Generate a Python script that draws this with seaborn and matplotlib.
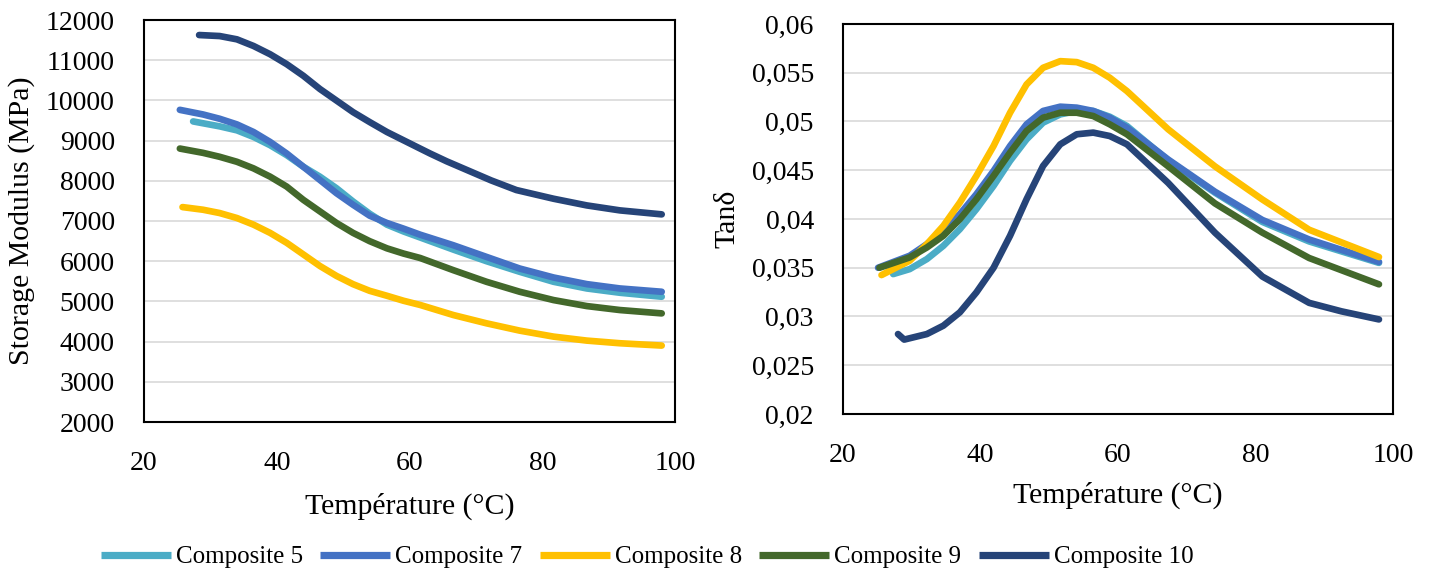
import numpy as np
import pandas as pd
import matplotlib
matplotlib.use("Agg")
import matplotlib.pyplot as plt
import seaborn as sns

# ---------------- data ----------------
series_names = ["Composite 5", "Composite 7", "Composite 8", "Composite 9", "Composite 10"]
series_colors = ["#4BACC6", "#4472C4", "#FFC000", "#43682B", "#264478"]

# Storage modulus (MPa) vs temperature (°C)
t_mod_c5 = [27.4, 31.4, 34.0, 36.5, 39.0, 41.5, 44.0, 46.5, 49.0, 51.5, 54.0, 56.6, 59.1, 61.6, 66.6, 71.6, 76.6, 81.7, 86.7, 91.7, 98.0]
e_mod_c5 = [9477, 9354, 9255, 9091, 8885, 8638, 8350, 8103, 7815, 7485, 7181, 6909, 6740, 6590, 6289, 6000, 5736, 5488, 5322, 5215, 5116]

t_mod_c7 = [25.4, 28.9, 31.4, 34.0, 36.5, 39.0, 41.5, 44.0, 46.5, 49.0, 51.5, 54.0, 56.6, 59.1, 61.6, 66.6, 71.6, 76.6, 81.7, 86.7, 91.7, 98.0]
e_mod_c7 = [9765, 9650, 9543, 9403, 9214, 8967, 8679, 8350, 8021, 7691, 7403, 7132, 6951, 6810, 6660, 6397, 6107, 5818, 5595, 5430, 5322, 5240]

t_mod_c8 = [25.8, 28.9, 31.4, 34.0, 36.5, 39.0, 41.5, 44.0, 46.5, 49.0, 51.5, 54.0, 56.6, 59.1, 61.6, 66.6, 71.6, 76.6, 81.7, 86.7, 91.7, 98.0]
e_mod_c8 = [7346, 7280, 7198, 7074, 6909, 6704, 6457, 6169, 5881, 5634, 5428, 5263, 5140, 5016, 4912, 4661, 4455, 4273, 4124, 4025, 3959, 3901]

t_mod_c9 = [25.4, 28.9, 31.4, 34.0, 36.5, 39.0, 41.5, 44.0, 46.5, 49.0, 51.5, 54.0, 56.6, 59.1, 61.6, 66.6, 71.6, 76.6, 81.7, 86.7, 91.7, 98.0]
e_mod_c9 = [8802, 8695, 8597, 8473, 8309, 8103, 7856, 7527, 7239, 6951, 6704, 6498, 6320, 6190, 6080, 5777, 5488, 5240, 5033, 4884, 4785, 4702]

t_mod_c10 = [28.3, 31.4, 34.0, 36.5, 39.0, 41.5, 44.0, 46.5, 49.0, 51.5, 54.0, 56.6, 59.1, 61.6, 63.1, 65.6, 72.3, 76.1, 81.7, 86.7, 91.7, 98.0]
e_mod_c10 = [11626, 11601, 11519, 11354, 11148, 10901, 10613, 10284, 9996, 9708, 9461, 9214, 9008, 8802, 8679, 8485, 8010, 7770, 7554, 7388, 7264, 7165]

# Tan delta vs temperature (°C)
t_tan_c5 = [27.3, 29.7, 32.2, 34.6, 37.0, 39.4, 41.9, 44.3, 46.7, 49.1, 51.6, 54.0, 56.4, 58.8, 61.3, 67.3, 74.1, 81.0, 87.8, 97.96]
tan_c5 = [0.03435, 0.03486, 0.03589, 0.03725, 0.03896, 0.04101, 0.0434, 0.04596, 0.04817, 0.04988, 0.05073, 0.05108, 0.05108, 0.05049, 0.04954, 0.0460, 0.0427, 0.0397, 0.0377, 0.0355]

t_tan_c7 = [25.1, 29.7, 32.2, 34.6, 37.0, 39.4, 41.9, 44.3, 46.7, 49.1, 51.6, 54.0, 56.4, 58.8, 61.3, 67.3, 74.1, 81.0, 87.8, 97.96]
tan_c7 = [0.0350, 0.03623, 0.03742, 0.03879, 0.0405, 0.04254, 0.04493, 0.04749, 0.04971, 0.05108, 0.05152, 0.05142, 0.05108, 0.05039, 0.04937, 0.0461, 0.0428, 0.0399, 0.0379, 0.0356]

t_tan_c8 = [25.6, 29.7, 32.2, 34.6, 37.0, 39.4, 41.9, 44.3, 46.7, 49.1, 51.6, 54.0, 56.4, 58.8, 61.3, 67.3, 74.1, 81.0, 87.8, 97.96]
tan_c8 = [0.03425, 0.03572, 0.03742, 0.0393, 0.04169, 0.04442, 0.04749, 0.0509, 0.0538, 0.05551, 0.05619, 0.05609, 0.05551, 0.05449, 0.05312, 0.0492, 0.0454, 0.0420, 0.0389, 0.0361]

t_tan_c9 = [25.3, 29.7, 32.2, 34.6, 37.0, 39.4, 41.9, 44.3, 46.7, 49.1, 51.6, 54.0, 56.4, 58.8, 61.3, 67.3, 74.1, 81.0, 87.8, 97.96]
tan_c9 = [0.0350, 0.03606, 0.03708, 0.03828, 0.03998, 0.04203, 0.04442, 0.04681, 0.04903, 0.05039, 0.0509, 0.0509, 0.05056, 0.04971, 0.04869, 0.0454, 0.0416, 0.0386, 0.0360, 0.0333]

t_tan_c10 = [28.0, 28.9, 32.2, 34.6, 37.0, 39.4, 41.9, 44.3, 46.7, 49.1, 51.6, 54.0, 56.4, 58.8, 61.3, 67.3, 74.1, 81.0, 84.4, 87.8, 92.5, 97.96]
tan_c10 = [0.0282, 0.02763, 0.0282, 0.02906, 0.03043, 0.03247, 0.0350, 0.03828, 0.04203, 0.04544, 0.04766, 0.04869, 0.04886, 0.04851, 0.04766, 0.0437, 0.0386, 0.0341, 0.03275, 0.0314, 0.03053, 0.0297]

x_ticks = [20, 40, 60, 80, 100]
mod_ticks = [2000, 3000, 4000, 5000, 6000, 7000, 8000, 9000, 10000, 11000, 12000]
tan_ticks = [0.02, 0.025, 0.03, 0.035, 0.04, 0.045, 0.05, 0.055, 0.06]
tan_tick_labels = ["0,02", "0,025", "0,03", "0,035", "0,04", "0,045", "0,05", "0,055", "0,06"]

x_label = "Température (°C)"
mod_label = "Storage Modulus (MPa)"
tan_label = "Tanδ"

# ---------------- build frames ----------------
mod_sets = [(t_mod_c5, e_mod_c5), (t_mod_c7, e_mod_c7), (t_mod_c8, e_mod_c8),
            (t_mod_c9, e_mod_c9), (t_mod_c10, e_mod_c10)]
tan_sets = [(t_tan_c5, tan_c5), (t_tan_c7, tan_c7), (t_tan_c8, tan_c8),
            (t_tan_c9, tan_c9), (t_tan_c10, tan_c10)]

def to_frame(sets, col):
    rows = []
    for name, (tx, vy) in zip(series_names, sets):
        for a, b in zip(tx, vy):
            rows.append({"T": a, col: b, "Series": name})
    return pd.DataFrame(rows)

df_mod = to_frame(mod_sets, "E")
df_tan = to_frame(tan_sets, "tan")

# ---------------- style ----------------
sns.set_theme(style="white")
plt.rcParams["font.family"] = ["Liberation Serif", "DejaVu Serif"]
plt.rcParams["text.color"] = "black"
plt.rcParams["axes.labelcolor"] = "black"
plt.rcParams["xtick.color"] = "black"
plt.rcParams["ytick.color"] = "black"

W, H = 1434, 574
fig = plt.figure(figsize=(W / 100, H / 100), dpi=100)
ax1 = fig.add_axes([144 / W, 1 - 422 / H, (675 - 144) / W, (422 - 20) / H])
ax2 = fig.add_axes([843 / W, 1 - 414 / H, (1393 - 843) / W, (414 - 24) / H])

palette = dict(zip(series_names, series_colors))
lw = 4.8

sns.lineplot(data=df_mod, x="T", y="E", hue="Series", hue_order=series_names,
             palette=palette, sort=False, estimator=None, linewidth=lw, ax=ax1,
             legend=True)
sns.lineplot(data=df_tan, x="T", y="tan", hue="Series", hue_order=series_names,
             palette=palette, sort=False, estimator=None, linewidth=lw, ax=ax2,
             legend=False)

for ax in (ax1, ax2):
    for ln in ax.get_lines():
        ln.set_solid_capstyle("round")
        ln.set_solid_joinstyle("round")
    ax.set_xlim(20, 100)
    ax.set_xticks(x_ticks)
    ax.grid(axis="y", color="#d9d9d9", linewidth=1.2)
    ax.grid(axis="x", visible=False)
    ax.set_axisbelow(True)
    for s in ax.spines.values():
        s.set_color("black")
        s.set_linewidth(1.5)
    ax.tick_params(axis="both", length=0, labelsize=20, colors="black")
    ax.tick_params(axis="y", pad=21)
    ax.tick_params(axis="x", pad=21)

ax1.set_ylim(2000, 12000)
ax1.set_yticks(mod_ticks)
ax1.set_xlabel(x_label, fontsize=21.5, labelpad=12, color="black")
ax1.set_ylabel(mod_label, fontsize=21.5, labelpad=8, color="black")

ax2.set_ylim(0.02, 0.06)
ax2.set_yticks(tan_ticks)
ax2.set_yticklabels(tan_tick_labels)
ax2.set_xlabel(x_label, fontsize=21.5, labelpad=10, color="black")
ax2.set_ylabel(tan_label, fontsize=21.5, labelpad=8, color="black")

handles, labels = ax1.get_legend_handles_labels()
ax1.get_legend().remove()
for h in handles:
    h.set_linewidth(5.2)
    h.set_solid_capstyle("butt")
fig.legend(handles, labels, loc="center", bbox_to_anchor=(647 / W, 1 - 557 / H),
           ncol=5, frameon=False, fontsize=18, handlelength=2.8,
           handletextpad=0.2, columnspacing=0.7)

fig.savefig("out.png", dpi=100, facecolor="white")
